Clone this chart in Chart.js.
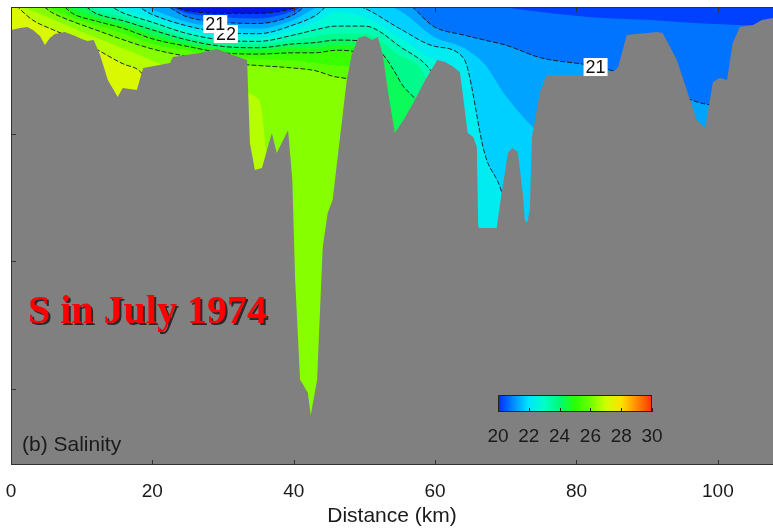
<!DOCTYPE html>
<html><head><meta charset="utf-8">
<style>html,body{margin:0;padding:0;background:#fff}canvas{display:block}</style>
<script src="https://cdn.jsdelivr.net/npm/chart.js@4/dist/chart.umd.min.js"></script>
</head><body>
<canvas id="c" width="773" height="530"></canvas>
<script>
// ---- axis ticks ----
const distanceTicks = [0, 20, 40, 60, 80, 100];
const depthTicks = [100, 200, 300];
const colorbarTicks = [20, 22, 24, 26, 28, 30];

// ---- bathymetry (distance km, depth m) ----
const bathyKm = [0.0,1.3,2.3,3.1,4.1,4.8,5.5,6.2,7.6,9.1,10.0,10.8,11.7,12.6,13.7,15.1,15.8,17.8,18.7,22.5,22.9,26.7,29.1,31.4,33.4,33.8,34.5,35.5,36.9,37.6,38.5,39.2,39.8,40.2,40.9,41.2,42.0,42.4,43.3,43.7,44.1,44.8,45.5,46.0,46.5,47.0,47.5,48.2,49.1,50.1,51.1,51.9,52.6,53.3,54.3,55.7,56.9,58.6,60.3,61.4,62.4,63.5,64.2,64.6,65.4,65.9,66.1,66.3,68.7,69.2,70.3,70.9,71.7,72.4,72.7,73.0,73.4,73.7,74.8,75.8,80.9,82.9,85.2,85.9,87.1,91.4,92.2,94.2,95.6,97.0,98.2,99.3,100.3,101.3,102.1,103.1,105.0,106.2,107.8];
const bathyDepth = [18.1,16.5,15.7,18.1,22.8,29.9,24.4,21.2,19.7,22.8,25.2,26.7,25.9,37.7,57.4,70.8,63.7,65.3,48.0,44.0,39.3,36.2,33.0,37.7,41.7,106.9,128.1,126.6,99.1,114.8,104.6,96.7,136.0,214.6,293.2,295.6,303.5,320.8,293.2,240.6,188.7,161.9,151.7,128.1,104.6,81.0,57.4,37.7,24.4,22.8,25.9,23.6,37.7,65.3,99.1,87.3,75.5,57.4,41.7,43.2,46.4,51.1,81.0,99.1,102.2,110.1,173.0,173.7,173.7,154.1,114.8,110.8,114.0,146.2,167.5,169.8,159.6,102.2,67.6,53.5,53.5,51.1,51.1,47.2,22.0,19.7,20.4,41.7,65.3,88.8,95.1,59.0,55.8,57.4,28.3,15.7,14.2,10.2,8.6];

// ---- isohaline depths (m) at stations; -5 = outcrops above surface, 400 = below section ----
const stationKm = [0,3,6,9,12,16,20,25,30,35,40,43,46,50,55,60,64,67,70,75,82,90,98,108];
const s20_0 = [-5,-5,-5,-5,-5,-5,-5,3,5,5,1,-5,-5,-5,-5,-5,-5,-5,-5,-5,-5,-5,-5,-5];
const s20_5 = [-5,-5,-5,-5,-5,-5,-5,5,8,9,3,-5,-5,-5,-5,-5,-5,-5,0,4,8,10,13,15];
const s21_0 = [-5,-5,-5,-5,-5,-5,-5,8,12,13,6,-5,-5,-5,-5,16,22,26,30,40,46,58,76,80];
const s21_5 = [-5,-5,-5,-5,-5,-5,2,12,16,17,10,1,-5,-5,3,24,32,45,70,100,120,140,160,170];
const s22_0 = [-5,-5,-5,-5,-5,-5,6,15,20,21,14,7,-5,1,17,31,40,115,160,400,400,400,400,400];
const s22_5 = [-5,-5,-5,-5,-5,2,9,18,23,24,18,12,4,8,24,42,75,400,400,400,400,400,400,400];
const s23_0 = [-5,-5,-5,-5,-5,5,12,21,26,27,22,18,15,15,31,55,120,400,400,400,400,400,400,400];
const s23_5 = [-5,-5,-5,-5,2,8,15,24,28,29,26,23,21,21,38,80,400,400,400,400,400,400,400,400];
const s24_0 = [-5,-5,-5,-5,5,11,18,26,31,32,29,28,26,27,58,130,400,400,400,400,400,400,400,400];
const s24_5 = [-5,-5,-5,2,8,14,22,29,33,34,32,32,30,32,120,400,400,400,400,400,400,400,400,400];
const s25_0 = [-5,-5,-5,6,11,17,25,31,36,37,36,36,34,38,400,400,400,400,400,400,400,400,400,400];
const s25_5 = [-5,-5,2,9,14,21,29,34,39,41,42,44,46,55,400,400,400,400,400,400,400,400,400,400];
const s26_0 = [-5,-5,5,12,18,26,33,39,44,46,48,50,55,70,400,400,400,400,400,400,400,400,400,400];
const s26_5 = [-5,3,10,17,24,33,42,55,65,72,400,400,400,400,400,400,400,400,400,400,400,400,400,400];
const s27_0 = [-5,10,18,25,33,45,70,400,400,400,400,400,400,400,400,400,400,400,400,400,400,400,400,400];

const isohalines = [[20,s20_0],[20.5,s20_5],[21,s21_0],[21.5,s21_5],[22,s22_0],[22.5,s22_5],[23,s23_0],[23.5,s23_5],[24,s24_0],[24.5,s24_5],[25,s25_0],[25.5,s25_5],[26,s26_0],[26.5,s26_5],[27,s27_0]];

// ---- contour labels ----
const labelText = ['22','21','21'];
const labelKm = [30.4, 28.9, 82.7];
const labelDepth = [21.2, 13.4, 47.2];

// ---- colour map ----
const colorStops = [[19.5,[0,0,200]],[20,[0,40,255]],[21,[0,140,255]],[22,[0,230,255]],[23,[0,255,200]],[24,[0,250,120]],[25,[40,255,0]],[26,[110,255,0]],[27,[205,255,0]],[28,[255,225,0]],[29,[255,140,0]],[30,[255,50,0]]];
function cmap(s){
  if (s <= colorStops[0][0]) return colorStops[0][1];
  for (let i=1;i<colorStops.length;i++){
    if (s <= colorStops[i][0]){
      const [s0,c0]=colorStops[i-1],[s1,c1]=colorStops[i];
      const t=(s-s0)/(s1-s0);
      return c0.map((v,j)=>Math.round(v+(c1[j]-v)*t));
    }
  }
  return colorStops[colorStops.length-1][1];
}
const rgb = c => `rgb(${c[0]},${c[1]},${c[2]})`;

const SANS = '"Liberation Sans", Arial, sans-serif';
const DEPTH_MAX = 360;

const datasets = [{
  label:'Bathymetry',
  data: bathyKm.map((x,i)=>({x, y: bathyDepth[i]})),
  fill: {value: DEPTH_MAX}, backgroundColor:'#808080',
  borderColor:'rgba(0,0,0,0)', borderWidth:0, pointRadius:0, tension:0
}];
isohalines.slice().reverse().forEach(([lev, arr]) => {
  const isInt = Number.isInteger(lev);
  datasets.push({
    label:'S '+lev,
    data: stationKm.map((x,i)=>({x, y: arr[i]})),
    fill: {value: DEPTH_MAX},
    backgroundColor: rgb(cmap(lev+0.25)),
    borderColor: isInt ? 'rgba(20,20,20,0.9)' : 'rgba(0,0,0,0)',
    borderWidth: isInt ? 1 : 0,
    borderDash: [5,2],
    cubicInterpolationMode:'monotone',
    pointRadius:0
  });
});

const bgPlugin = {
  id:'bg',
  beforeDatasetsDraw(chart){
    const {ctx, chartArea:a} = chart;
    ctx.save();
    ctx.fillStyle = rgb(cmap(isohalines[0][0]-0.25));
    ctx.fillRect(a.left, a.top, a.right-a.left, a.bottom-a.top);
    ctx.restore();
  }
};

const overlayPlugin = {
  id:'overlay',
  afterDatasetsDraw(chart){
    const {ctx, chartArea:a, scales:{x, y}} = chart;
    ctx.save();
    // contour labels
    ctx.font = '18px '+SANS;
    ctx.textAlign='center'; ctx.textBaseline='middle';
    labelText.forEach((t,i)=>{
      const px = x.getPixelForValue(labelKm[i]), py = y.getPixelForValue(labelDepth[i]);
      const w = ctx.measureText(t).width + 4;
      ctx.fillStyle='#fff'; ctx.fillRect(px-w/2, py-9, w, 18);
      ctx.fillStyle='#111'; ctx.fillText(t, px, py+1);
    });
    // frame
    ctx.strokeStyle='#333'; ctx.lineWidth=1;
    ctx.strokeRect(a.left+0.5, a.top+0.5, a.right-a.left, a.bottom-a.top-1);
    // inward ticks
    ctx.beginPath();
    distanceTicks.forEach(v=>{
      const px = Math.round(x.getPixelForValue(v))+0.5;
      ctx.moveTo(px, a.bottom); ctx.lineTo(px, a.bottom-5);
      ctx.moveTo(px, a.top); ctx.lineTo(px, a.top+5);
    });
    depthTicks.forEach(v=>{
      const py = Math.round(y.getPixelForValue(v))+0.5;
      ctx.moveTo(a.left, py); ctx.lineTo(a.left+5, py);
    });
    ctx.stroke();
    // colour bar
    const cbL=498, cbR=652, cbT=395, cbB=412, s0=colorbarTicks[0], s1=colorbarTicks[colorbarTicks.length-1];
    const g = ctx.createLinearGradient(cbL,0,cbR,0);
    colorStops.forEach(([s,c])=>{ if (s>=s0 && s<=s1) g.addColorStop((s-s0)/(s1-s0), rgb(c)); });
    ctx.fillStyle=g; ctx.fillRect(cbL,cbT,cbR-cbL,cbB-cbT);
    ctx.strokeStyle='#222'; ctx.strokeRect(cbL+0.5,cbT+0.5,cbR-cbL-1,cbB-cbT-1);
    ctx.beginPath();
    colorbarTicks.forEach(v=>{
      const px = Math.round(cbL+(v-s0)/(s1-s0)*(cbR-cbL))+0.5;
      ctx.moveTo(px,cbB); ctx.lineTo(px,cbB-4);
    });
    ctx.stroke();
    ctx.fillStyle='#1a1a1a'; ctx.font='19px '+SANS; ctx.textAlign='center'; ctx.textBaseline='middle';
    colorbarTicks.forEach(v=>{
      ctx.fillText(String(v), cbL+(v-s0)/(s1-s0)*(cbR-cbL), 437);
    });
    // panel label
    ctx.textAlign='left'; ctx.textBaseline='alphabetic'; ctx.font='21px '+SANS;
    ctx.fillText('(b) Salinity', 22, 451);
    // big title
    ctx.font='bold 40px "Liberation Serif", "Times New Roman", serif';
    ctx.fillStyle='#2a2a2a'; ctx.fillText('S in July 1974', 30, 325);
    ctx.fillStyle='#ff0000'; ctx.fillText('S in July 1974', 28, 323);
    ctx.restore();
  }
};

new Chart(document.getElementById('c'), {
  type:'line',
  data:{datasets},
  options:{
    responsive:false, animation:false, devicePixelRatio:1,
    layout:{padding:{left:11, top:7, right:0, bottom:0}},
    plugins:{legend:{display:false}, tooltip:{enabled:false}},
    scales:{
      x:{type:'linear', min:0, max:107.8,
        afterFit: s => { s.height = 65; s.paddingLeft = 0; s.paddingRight = 0; },
        afterBuildTicks: s => { s.ticks = distanceTicks.map(v=>({value:v})); },
        grid:{display:false, drawTicks:false}, border:{display:false},
        ticks:{padding:15, color:'#1a1a1a', font:{family:SANS, size:19}, maxRotation:0, autoSkip:false},
        title:{display:true, text:'Distance (km)', color:'#1a1a1a', font:{family:SANS, size:21}, padding:{top:0, bottom:1}}
      },
      y:{type:'linear', reverse:true, min:0, max:DEPTH_MAX, display:false}
    }
  },
  plugins:[bgPlugin, overlayPlugin]
});
</script>
</body></html>
